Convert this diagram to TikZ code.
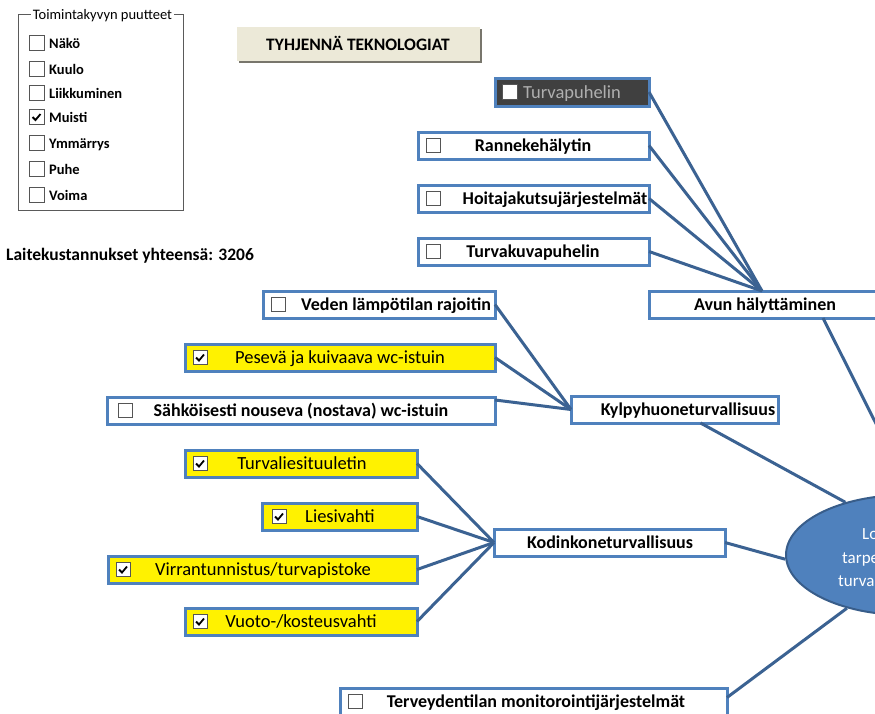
\documentclass[tikz,border=0pt]{standalone}
\usepackage{fontspec}
\setmainfont{Carlito}
\usetikzlibrary{shapes.geometric,calc}
\definecolor{boxblue}{RGB}{79,129,189}
\definecolor{linkblue}{RGB}{59,98,146}
\definecolor{goalfill}{RGB}{79,129,189}
\definecolor{goaledge}{RGB}{56,93,138}
\definecolor{darkfill}{RGB}{64,64,64}
\definecolor{darktext}{RGB}{175,175,175}
\definecolor{btnfill}{RGB}{236,233,216}
\definecolor{btnshade}{RGB}{120,118,108}
\definecolor{framegray}{RGB}{90,90,90}
\definecolor{cbgray}{RGB}{85,85,85}
\begin{document}
\begin{tikzpicture}[x=1pt,y=-1pt,
  item/.style={draw=boxblue, line width=3pt, fill=white, anchor=north west,
    inner sep=0pt, outer sep=0pt},
  hot/.style={item, fill=yellow},
  dark/.style={item, fill=darkfill},
  lbl/.style={inner sep=0pt, anchor=base, font=\fontsize{18}{21}\selectfont\bfseries},
  lblplain/.style={inner sep=0pt, anchor=base, font=\fontsize{18.5}{21}\selectfont},
  cbox/.style={draw=cbgray, line width=1pt, fill=white, minimum size=14pt,
    inner sep=0pt},
  cboxon/.style={cbox, path picture={
      \draw[black, line width=1.8pt]
        ($(path picture bounding box.center)+(-4,0)$) --
        ($(path picture bounding box.center)+(-1,3)$) --
        ($(path picture bounding box.center)+(4,-3)$);}},
  link/.style={draw=linkblue, line width=3pt},
  paneltxt/.style={inner sep=0pt, anchor=base west,
    font=\fontsize{14.5}{17}\selectfont\bfseries},
]
\useasboundingbox (0,0) rectangle (875,713);
\clip (0,0) rectangle (875,713);

% ---- impairment panel
\draw[framegray, line width=1pt] (18,14) rectangle (183,210);
\node[fill=white, inner xsep=2pt, inner ysep=1pt, anchor=base,
  font=\fontsize{14.5}{17}\selectfont] (ptitle) at (102.5,19) {Toimintakyvyn puutteet};
\foreach \nm/\yy/\txt/\st in {pa/43/Näkö/cbox, pb/69/Kuulo/cbox,
    pc/93/Liikkuminen/cbox, pd/117/Muisti/cboxon, pe/143/Ymmärrys/cbox,
    pf/169/Puhe/cbox, pg/195/Voima/cbox}{
  \node[\st, minimum size=15pt] (\nm-cb) at (36.5,\yy) {};
  \node[paneltxt] (\nm-t) at (49,\yy+5) {\txt};
}

% ---- clear button
\fill[btnshade] (239,29) rectangle (482,63);
\node[fill=btnfill, anchor=north west, minimum width=243pt, minimum height=34pt,
  inner sep=0pt] (clear) at (237,27) {};
\node[font=\fontsize{17.5}{20}\selectfont\bfseries, inner sep=0pt, anchor=base]
  (clear-t) at (358,50) {TYHJENNÄ TEKNOLOGIAT};

% ---- total cost
\node[font=\fontsize{17.5}{20}\selectfont\bfseries, inner sep=0pt, anchor=base west]
  (cost) at (6,260) {Laitekustannukset yhteensä: 3206};

% ---- goal
\node[ellipse, draw=goaledge, line width=2pt, fill=goalfill,
  minimum width=240pt, minimum height=120pt] (goal) at (906,555) {};
\node[lblplain, anchor=base west, text=white, font=\fontsize{17}{20}\selectfont]
  (goal-a) at (862,539) {Lo};
\node[lblplain, anchor=base west, text=white, font=\fontsize{17}{20}\selectfont]
  (goal-b) at (842,563) {tarpe};
\node[lblplain, anchor=base west, text=white, font=\fontsize{17}{20}\selectfont]
  (goal-c) at (838,586) {turva};

% ---- alarm group
\node[dark, minimum width=154pt, minimum height=28pt] (turva) at (495,78) {};
\node[cbox, minimum size=15pt] (turva-cb) at (509.5,92) {};
\node[lblplain, anchor=base west, text=darktext] (turva-t) at (523,98) {Turvapuhelin};

\node[item, minimum width=231pt, minimum height=27pt] (ranne) at (418,132) {};
\node[cbox] (ranne-cb) at (433,145.5) {};
\node[lbl] (ranne-t) at (533,151.5) {Rannekehälytin};

\node[item, minimum width=231pt, minimum height=27pt] (hoit) at (418,185) {};
\node[cbox] (hoit-cb) at (433,198.5) {};
\node[lbl] (hoit-t) at (555,204.5) {Hoitajakutsujärjestelmät};

\node[item, minimum width=231pt, minimum height=27pt] (kuva) at (418,238) {};
\node[cbox] (kuva-cb) at (433,251.5) {};
\node[lbl] (kuva-t) at (533,257.5) {Turvakuvapuhelin};

\node[item, minimum width=232pt, minimum height=27pt] (avun) at (649,291) {};
\node[lbl] (avun-t) at (765,310.5) {Avun hälyttäminen};

% ---- bathroom group
\node[item, minimum width=232pt, minimum height=27pt] (veden) at (263,291) {};
\node[cbox] (veden-cb) at (278,304.5) {};
\node[lbl] (veden-t) at (396,310.5) {Veden lämpötilan rajoitin};

\node[hot, minimum width=310pt, minimum height=27pt] (pesu) at (185,344) {};
\node[cboxon] (pesu-cb) at (200,357.5) {};
\node[lblplain] (pesu-t) at (340,363.5) {Pesevä ja kuivaava wc-istuin};

\node[item, minimum width=388pt, minimum height=27pt] (sahko) at (107,397) {};
\node[cbox] (sahko-cb) at (125,410.5) {};
\node[lbl] (sahko-t) at (301,416.5) {Sähköisesti nouseva (nostava) wc-istuin};

\node[item, minimum width=207pt, minimum height=27pt] (kylpy) at (571,396) {};
\node[lbl] (kylpy-t) at (688,415.5) {Kylpyhuoneturvallisuus};

% ---- appliance group
\node[hot, minimum width=232pt, minimum height=27pt] (liesit) at (185,450) {};
\node[cboxon] (liesit-cb) at (200,463.5) {};
\node[lblplain] (liesit-t) at (302,469.5) {Turvaliesituuletin};

\node[hot, minimum width=155pt, minimum height=27pt] (liesv) at (262,503) {};
\node[cboxon] (liesv-cb) at (279,516.5) {};
\node[lblplain] (liesv-t) at (340,522.5) {Liesivahti};

\node[hot, minimum width=309pt, minimum height=27pt] (virta) at (108,556) {};
\node[cboxon] (virta-cb) at (123,569.5) {};
\node[lblplain] (virta-t) at (263,575.5) {Virrantunnistus/turvapistoke};

\node[hot, minimum width=232pt, minimum height=27pt] (vuoto) at (185,608) {};
\node[cboxon] (vuoto-cb) at (200,621.5) {};
\node[lblplain] (vuoto-t) at (301,627.5) {Vuoto-/kosteusvahti};

\node[item, minimum width=231pt, minimum height=27pt] (kodin) at (494,529) {};
\node[lbl] (kodin-t) at (610,548.5) {Kodinkoneturvallisuus};

% ---- health monitoring
\node[item, minimum width=387pt, minimum height=27pt] (terv) at (340,688) {};
\node[cbox] (terv-cb) at (355,701.5) {};
\node[lbl] (terv-t) at (536,707.5) {Terveydentilan monitorointijärjestelmät};

% ---- connectors
\coordinate (avun-in) at ($(avun.north)+(-3,0)$);
\foreach \src in {turva, ranne, hoit, kuva}
  \draw[link] (\src.east) -- (avun-in);
\draw[link] (veden.east) -- (kylpy.west);
\draw[link] (pesu.east) -- (kylpy.west);
\draw[link] ($(sahko.north east)+(0,3)$) -- (kylpy.west);
\foreach \src in {liesit, liesv, virta, vuoto}
  \draw[link] (\src.east) -- (kodin.west);
\draw[link] ($(avun.south)+(58,0)$) -- (goal.85);
\draw[link] ($(kylpy.south)+(26,0)$) -- (goal.139);
\draw[link] (kodin.east) -- (goal.182);
\draw[link] ($(terv.east)+(0,-4)$) -- (goal.222);
\end{tikzpicture}
\end{document}
